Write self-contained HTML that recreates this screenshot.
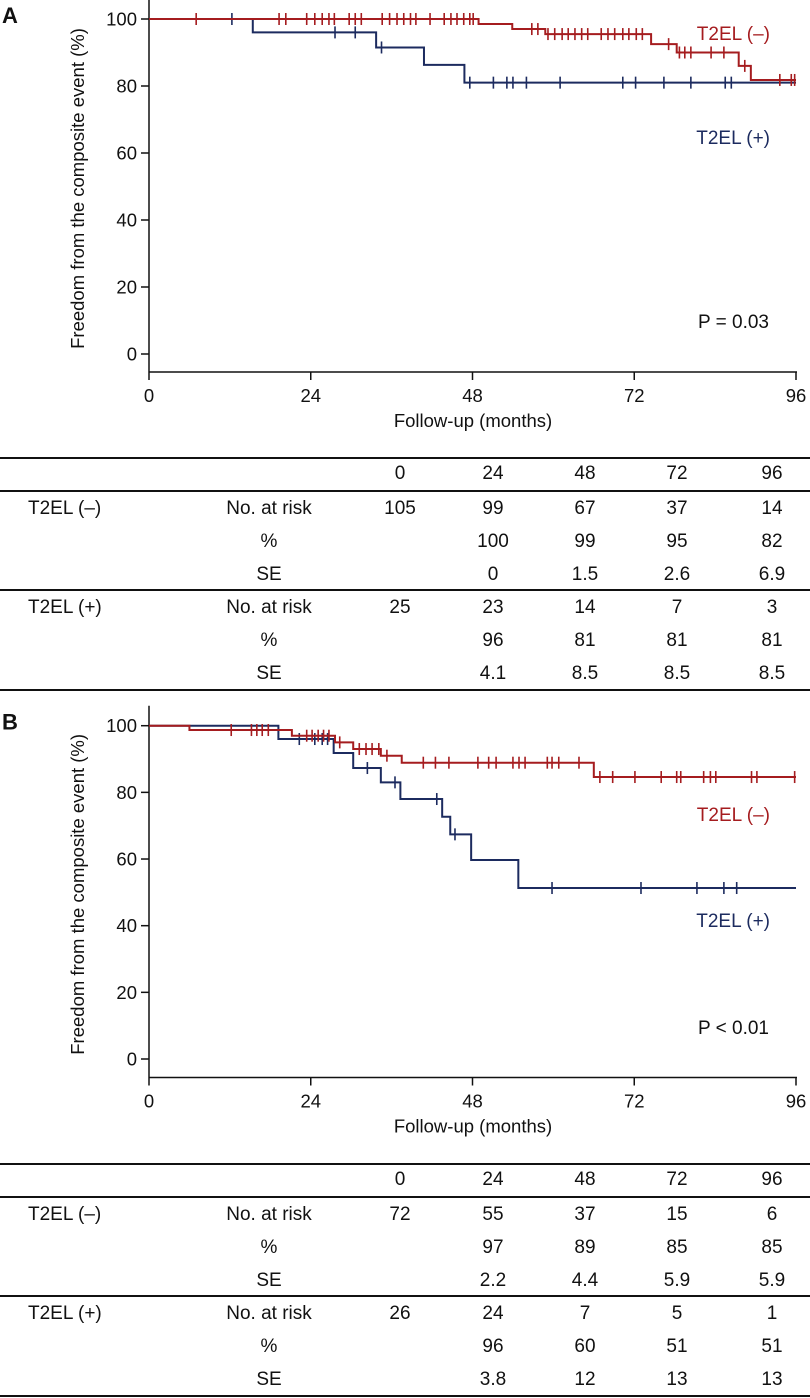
<!DOCTYPE html>
<html><head><meta charset="utf-8"><style>
body{margin:0;background:#fff;width:810px;height:1398px;overflow:hidden;position:relative;font-family:"Liberation Sans",sans-serif;color:#111}
svg{position:absolute;left:0;top:0}
.t{position:absolute;font-size:19px;line-height:20px;white-space:nowrap}
.c{transform:translateX(-50%)}
.hl{position:absolute;left:0;width:810px;height:2px;background:#111}
</style></head><body>
<svg id="chart" width="810" height="1398"></svg>
<div id="tables"></div>
<script>
// ---- Data ----
const xTicks=[0,24,48,72,96];
const yTicks=[0,20,40,60,80,100];
// Panel A
const aRedTimes=[0,48.9,53.9,58.8,74.5,78.3,87.5,89.3,96];
const aRedSurv=[100,98.5,97,95.5,92.5,90,86,81.8,81.8];
const aRedCens=[7,19.3,20.3,23.4,24.6,25.7,26.7,27.5,29.7,30.6,31.5,34.6,35.7,36.8,37.8,38.8,39.6,41.7,43.8,44.8,45.7,46.7,47.6,48.1,56.8,57.7,59.2,60.2,61.3,62.2,63.2,64.2,65.1,67.1,68.1,69.1,70.3,71.2,72.3,73.2,77.1,78.7,79.5,80.4,83.4,85.3,88.4,93.6,95.3,95.8];
const aBlueTimes=[0,15.4,33.7,40.8,46.8,96];
const aBlueSurv=[100,96,91.5,86.3,81,81];
const aBlueCens=[12.3,27.6,30.6,34.5,47.6,51.1,53.1,54.0,56.0,61.0,70.3,72.2,76.4,80.4,85.5,86.4];
// Panel B
const bRedTimes=[0,6,21.2,27.6,30.3,34.4,37.5,66,96];
const bRedSurv=[100,98.7,97,95,93,91,88.9,84.6,84.6];
const bRedCens=[12.2,15.2,16.0,16.8,17.7,23.4,24.2,25.1,25.9,26.7,28.3,31.2,32.2,33.1,34.1,35.3,40.7,42.5,44.5,48.8,50.4,51.5,54.0,54.9,55.8,59.1,59.8,60.8,63.8,66.9,68.8,72.1,76.0,78.3,78.9,82.3,83.3,84.1,89.4,90.2,95.8];
const bBlueTimes=[0,19.2,27.4,30.3,34.4,37.3,43.5,44.7,47.8,54.8,96];
const bBlueSurv=[100,96,91.8,87.3,83,78,72.7,67.4,59.7,51.3,51.3];
const bBlueCens=[22.3,24.6,25.7,26.5,32.4,36.5,42.7,45.4,59.8,73,81.3,85.3,87.2];
// Tables
const tblCols=["0","24","48","72","96"];
const aNegRisk=["105","99","67","37","14"],aNegPct=["","100","99","95","82"],aNegSE=["","0","1.5","2.6","6.9"];
const aPosRisk=["25","23","14","7","3"],aPosPct=["","96","81","81","81"],aPosSE=["","4.1","8.5","8.5","8.5"];
const bNegRisk=["72","55","37","15","6"],bNegPct=["","97","89","85","85"],bNegSE=["","2.2","4.4","5.9","5.9"];
const bPosRisk=["26","24","7","5","1"],bPosPct=["","96","60","51","51"],bPosSE=["","3.8","12","13","13"];

const NS='http://www.w3.org/2000/svg';
const svg=document.getElementById('chart');
const RED='#a51c1f',BLUE='#1c2b5f';
function mk(tag,attrs,parent){const e=document.createElementNS(NS,tag);for(const k in attrs)e.setAttribute(k,attrs[k]);(parent||svg).appendChild(e);return e;}

function panel(p){
  const g=mk('g',{});
  
  
  const X=t=>149+t*(796-149)/96;
  const Y=v=>p.y0-v*(p.y0-p.y100)/100;
  const ya=mk('line',{x1:149,x2:149,y1:p.y100-20,y2:p.xAxis,stroke:'#111','stroke-width':1.5},g);
  
  const xa=mk('line',{x1:149,x2:797,y1:p.xAxis,y2:p.xAxis,stroke:'#111','stroke-width':1.5},g);
  
  yTicks.forEach(v=>{
    mk('line',{x1:141,x2:149,y1:Y(v),y2:Y(v),stroke:'#111','stroke-width':1.5},g);
    const t=mk('text',{x:137,y:Y(v)+6.5,'text-anchor':'end','font-size':18.5,fill:'#111'},g);t.textContent=v;
    
  });
  xTicks.forEach(v=>{
    mk('line',{x1:X(v),x2:X(v),y1:p.xAxis,y2:p.xAxis+8,stroke:'#111','stroke-width':1.5},g);
    const t=mk('text',{x:X(v),y:p.xAxis+30,'text-anchor':'middle','font-size':18.5,fill:'#111'},g);t.textContent=v;
    
  });
  const xt=mk('text',{x:473,y:p.xAxis+55,'text-anchor':'middle','font-size':18.5,fill:'#111'},g);xt.textContent='Follow-up (months)';
  
  const cy=(p.y100+p.y0)/2+2;
  const yt=mk('text',{x:0,y:0,'text-anchor':'middle','font-size':18.5,fill:'#111',transform:`translate(84,${cy}) rotate(-90)`},g);yt.textContent='Freedom from the composite event (%)';
  
  const pl=mk('text',{x:2,y:p.y100+4,'font-size':22,'font-weight':'bold',fill:'#111'},g);pl.textContent=p.letter;
  
  function series(times,surv,cens,col,nm){
    let d=`M${X(times[0])},${Y(surv[0])}`;
    for(let i=1;i<times.length;i++){d+=` H${X(times[i])} V${Y(surv[i])}`;}
    const path=mk('path',{d:d,fill:'none',stroke:col,'stroke-width':2},g);
    
    cens.forEach(c=>{
      let s=surv[0];for(let i=0;i<times.length;i++){if(times[i]<=c)s=surv[i];}
      const l=mk('line',{x1:X(c),x2:X(c),y1:Y(s)-6,y2:Y(s)+6,stroke:col,'stroke-width':1.6},g);
      
    });
  }
  series(p.blueT,p.blueS,p.blueC,BLUE,'t2el-positive');
  series(p.redT,p.redS,p.redC,RED,'t2el-negative');
  const l1=mk('text',{x:770,y:p.negLab,'text-anchor':'end','font-size':19,fill:RED},g);l1.textContent='T2EL (–)';
  
  const l2=mk('text',{x:770,y:p.posLab,'text-anchor':'end','font-size':19,fill:BLUE},g);l2.textContent='T2EL (+)';
  
  const pv=mk('text',{x:769,y:p.pLab,'text-anchor':'end','font-size':19,fill:'#111'},g);pv.textContent=p.pText;
  
}
panel({name:'panel-a',letter:'A',y100:19,y0:354,xAxis:372,redT:aRedTimes,redS:aRedSurv,redC:aRedCens,blueT:aBlueTimes,blueS:aBlueSurv,blueC:aBlueCens,negLab:40,posLab:144,pLab:328,pText:'P = 0.03'});
panel({name:'panel-b',letter:'B',y100:725.7,y0:1059,xAxis:1077.5,redT:bRedTimes,redS:bRedSurv,redC:bRedCens,blueT:bBlueTimes,blueS:bBlueSurv,blueC:bBlueCens,negLab:821,posLab:927,pLab:1034,pText:'P < 0.01'});

// tables
const tb=document.getElementById('tables');
const colX=[400,493,585,677,772];
function txt(s,x,y,center,name){const d=document.createElement('div');d.className='t'+(center?' c':'');d.style.left=x+'px';d.style.top=(y-10)+'px';d.textContent=s;
  
  
  tb.appendChild(d);}
function hl(y,name){const d=document.createElement('div');d.className='hl';d.style.top=(y-1)+'px';
  
  
  tb.appendChild(d);}
function table(top,neg,pos){
  hl(top,'table-top-rule');
  tblCols.forEach((c,i)=>txt(c,colX[i],top+16,true,'table-column-header'));
  hl(top+33,'table-header-rule');
  const rows=[[ 'T2EL (–)',neg],[ 'T2EL (+)',pos]];
  rows.forEach((r,gi)=>{
    const base=top+33+gi*99;
    if(gi===1)hl(base,'table-group-rule');
    txt(r[0],28,base+18,false,'table-group-label');
    ['No. at risk','%','SE'].forEach((lab,ri)=>{
      const y=base+18+ri*33;
      txt(lab,269,y,true,'table-row-label');
      r[1][ri].forEach((v,ci)=>{if(v)txt(v,colX[ci],y,true,'table-cell');});
    });
  });
  hl(top+33+99+100,'table-bottom-rule');
}
table(458,[aNegRisk,aNegPct,aNegSE],[aPosRisk,aPosPct,aPosSE]);
table(1164,[bNegRisk,bNegPct,bNegSE],[bPosRisk,bPosPct,bPosSE]);
</script>
</body></html>
